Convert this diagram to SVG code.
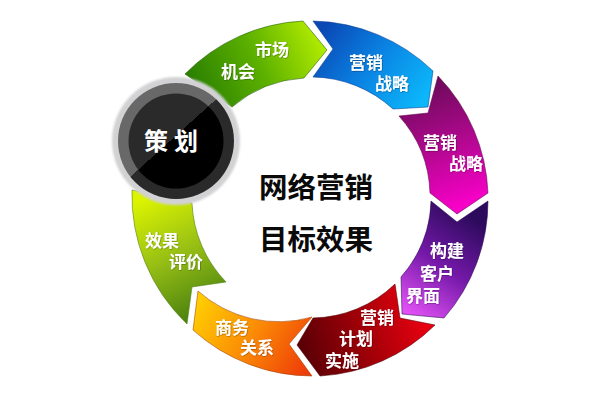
<svg xmlns="http://www.w3.org/2000/svg" width="600" height="400" viewBox="0 0 600 400">
<style>
.l{font-family:"Noto Sans CJK SC","Liberation Sans",sans-serif;font-size:17px;font-weight:700;fill:#fff;text-anchor:middle}
.t{font-family:"Noto Sans CJK SC","Liberation Sans",sans-serif;font-size:28.5px;font-weight:700;fill:#0a0a0a;text-anchor:middle}
.s{stroke-width:1;stroke-opacity:.55}
</style>
<defs>
<linearGradient id="g1" gradientUnits="userSpaceOnUse" x1="200" y1="95" x2="320" y2="40"><stop offset="0" stop-color="#2c8200"/><stop offset=".5" stop-color="#5cb000"/><stop offset="1" stop-color="#b0ea00"/></linearGradient>
<linearGradient id="g2" gradientUnits="userSpaceOnUse" x1="325" y1="25" x2="425" y2="100"><stop offset="0" stop-color="#0a48b4"/><stop offset=".5" stop-color="#0a84e4"/><stop offset="1" stop-color="#0cb8fa"/></linearGradient>
<linearGradient id="g3" gradientUnits="userSpaceOnUse" x1="425" y1="85" x2="465" y2="205"><stop offset="0" stop-color="#6e0a5c"/><stop offset=".5" stop-color="#b0088e"/><stop offset="1" stop-color="#f800c8"/></linearGradient>
<linearGradient id="g4" gradientUnits="userSpaceOnUse" x1="470" y1="215" x2="405" y2="310"><stop offset="0" stop-color="#2c0a5c"/><stop offset=".5" stop-color="#7418a8"/><stop offset="1" stop-color="#e050f4"/></linearGradient>
<linearGradient id="g5" gradientUnits="userSpaceOnUse" x1="425" y1="320" x2="305" y2="360"><stop offset="0" stop-color="#e80010"/><stop offset=".5" stop-color="#a00008"/><stop offset="1" stop-color="#5a0006"/></linearGradient>
<linearGradient id="g6" gradientUnits="userSpaceOnUse" x1="200" y1="300" x2="310" y2="365"><stop offset="0" stop-color="#ffcc00"/><stop offset=".5" stop-color="#fb8a06"/><stop offset="1" stop-color="#ee3c08"/></linearGradient>
<linearGradient id="g7" gradientUnits="userSpaceOnUse" x1="150" y1="195" x2="205" y2="310"><stop offset="0" stop-color="#dcf400"/><stop offset=".5" stop-color="#98c014"/><stop offset="1" stop-color="#4e8410"/></linearGradient>
<linearGradient id="c1" gradientUnits="userSpaceOnUse" x1="141.5" y1="99.5" x2="208.5" y2="173.5"><stop offset=".5" stop-color="#686868"/><stop offset=".5" stop-color="#2a2a2a"/></linearGradient>
<linearGradient id="c2" gradientUnits="userSpaceOnUse" x1="141.5" y1="99.5" x2="208.5" y2="173.5"><stop offset=".5" stop-color="#2a2a2a"/><stop offset=".5" stop-color="#000"/></linearGradient>
<filter id="b" x="-20%" y="-20%" width="140%" height="140%"><feGaussianBlur stdDeviation="1"/></filter>
<filter id="ts" x="-20%" y="-20%" width="140%" height="140%"><feDropShadow dx="0.5" dy="0.5" stdDeviation="0.6" flood-color="#000" flood-opacity=".45"/></filter>
</defs>
<rect width="600" height="400" fill="#fff"/>
<g id="connectors"/>
<g id="node-market"><path class="s" fill="url(#g1)" stroke="#1e5a00" d="M185 74A178 178 0 0 1 303 21L327 50L304 78A121 121 0 0 0 232 107Z"/><text class="l" filter="url(#ts)" x="272" y="56">市场</text><text class="l" filter="url(#ts)" x="238" y="78">机会</text></g>
<g id="node-strategy-1"><path class="s" fill="url(#g2)" stroke="#063a90" d="M313 21A178 178 0 0 1 433 71L428 107L393 109A121 121 0 0 0 313 77L333 49Z"/><text class="l" filter="url(#ts)" x="366" y="69">营销</text><text class="l" filter="url(#ts)" x="392" y="90">战略</text></g>
<g id="node-strategy-2"><path class="s" fill="url(#g3)" stroke="#5a0848" d="M438 76A178 178 0 0 1 488 193L457 214L430 193A121 121 0 0 0 399 116L428 113Z"/><text class="l" filter="url(#ts)" x="440" y="149">营销</text><text class="l" filter="url(#ts)" x="466" y="170">战略</text></g>
<g id="node-interface"><path class="s" fill="url(#g4)" stroke="#2a0a50" d="M488 201A178 178 0 0 1 444 318L402 314L401 277A121 121 0 0 0 431 201L457 222Z"/><text class="l" filter="url(#ts)" x="447" y="257">构建</text><text class="l" filter="url(#ts)" x="437" y="280">客户</text><text class="l" filter="url(#ts)" x="423" y="302">界面</text></g>
<g id="node-plan"><path class="s" fill="url(#g5)" stroke="#500006" d="M435 325A178 178 0 0 1 320 376L297 345L313 318A121 121 0 0 0 395 284L400 318Z"/><text class="l" filter="url(#ts)" x="377" y="324">营销</text><text class="l" filter="url(#ts)" x="356" y="345">计划</text><text class="l" filter="url(#ts)" x="342" y="367">实施</text></g>
<g id="node-relation"><path class="s" fill="url(#g6)" stroke="#a04000" d="M312 376A178 178 0 0 1 193 330L198 291A121 121 0 0 0 312 317L289 344Z"/><text class="l" filter="url(#ts)" x="232" y="334">商务</text><text class="l" filter="url(#ts)" x="257" y="354">关系</text></g>
<g id="node-evaluation"><path class="s" fill="url(#g7)" stroke="#4a7a10" d="M132 190A178 178 0 0 0 187 324L192 287L226 282A121 121 0 0 1 192 203Z"/><text class="l" filter="url(#ts)" x="162" y="247">效果</text><text class="l" filter="url(#ts)" x="186" y="268">评价</text></g>
<g id="node-center"><circle cx="176" cy="141" r="64" fill="#d2d2d4" filter="url(#b)"/><circle cx="176" cy="141" r="58" fill="url(#c1)"/><circle cx="176" cy="141" r="47.5" fill="url(#c2)"/><text x="174" y="150" font-family="Noto Sans CJK SC, Liberation Sans, sans-serif" font-size="24" font-weight="700" fill="#fff" text-anchor="middle" letter-spacing="6">策划</text></g>
<g id="node-title"><text class="t" x="316" y="198">网络营销</text><text class="t" x="316" y="250">目标效果</text></g>
</svg>
